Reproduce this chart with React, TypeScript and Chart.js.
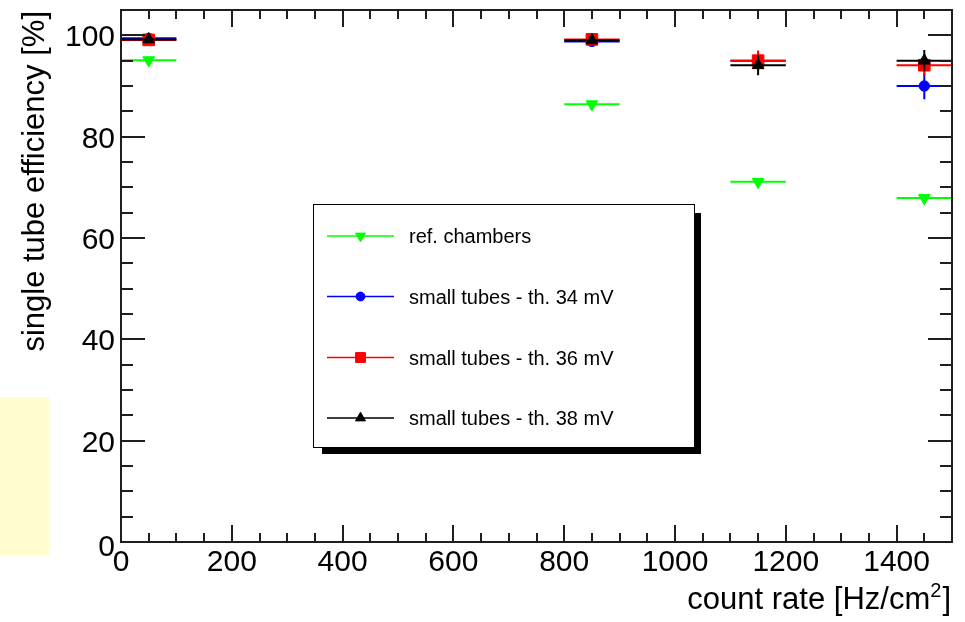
import React, { useEffect, useRef } from 'react';
import { Chart, registerables } from 'chart.js';

Chart.register(...registerables);

// ---- data ----
const countRates = [50, 850, 1150, 1450];
const countRateErr = [50, 50, 50, 50];

const refChambers = [95.1, 86.4, 71.1, 67.9];
const refChambersErr = [0.3, 0.3, 0.3, 0.3];

const smallTubes34 = [99.4, 98.8, 95.0, 90.0];
const smallTubes34Err = [1.0, 0.5, 1.5, 2.6];

const smallTubes36 = [99.1, 99.2, 95.0, 94.1];
const smallTubes36Err = [0.5, 0.5, 2.0, 2.0];

const smallTubes38 = [99.2, 99.0, 94.1, 95.0];
const smallTubes38Err = [0.5, 0.5, 2.0, 2.1];

const seriesLabels = [
  'ref. chambers',
  'small tubes - th. 34 mV',
  'small tubes - th. 36 mV',
  'small tubes - th. 38 mV',
];

const xTicks = [0, 200, 400, 600, 800, 1000, 1200, 1400];
const yTicks = [0, 20, 40, 60, 80, 100];

const X_MIN = 0, X_MAX = 1500, Y_MIN = 0, Y_MAX = 105;

const FONT = '"Liberation Sans", Arial, Helvetica, sans-serif';

type SeriesStyle = { color: string; style: string; radius: number; rotation: number };
const styles: SeriesStyle[] = [
  { color: '#00ff00', style: 'triangle', radius: 6.8, rotation: 180 },
  { color: '#0000ff', style: 'circle', radius: 5.2, rotation: 0 },
  { color: '#ff0000', style: 'rect', radius: 8.2, rotation: 0 },
  { color: '#000000', style: 'triangle', radius: 6.8, rotation: 0 },
];

const values = [refChambers, smallTubes34, smallTubes36, smallTubes38];
const errors = [refChambersErr, smallTubes34Err, smallTubes36Err, smallTubes38Err];

function drawMarker(ctx: CanvasRenderingContext2D, s: SeriesStyle, x: number, y: number) {
  ctx.save();
  ctx.fillStyle = s.color;
  ctx.strokeStyle = s.color;
  ctx.lineWidth = 1;
  ctx.beginPath();
  if (s.style === 'circle') {
    ctx.arc(x, y, s.radius, 0, Math.PI * 2);
  } else if (s.style === 'rect') {
    const h = s.radius * Math.SQRT1_2;
    ctx.rect(x - h, y - h, 2 * h, 2 * h);
  } else {
    let rad = (s.rotation * Math.PI) / 180;
    ctx.moveTo(x + Math.sin(rad) * s.radius, y - Math.cos(rad) * s.radius);
    rad += (2 * Math.PI) / 3;
    ctx.lineTo(x + Math.sin(rad) * s.radius, y - Math.cos(rad) * s.radius);
    rad += (2 * Math.PI) / 3;
    ctx.lineTo(x + Math.sin(rad) * s.radius, y - Math.cos(rad) * s.radius);
    ctx.closePath();
  }
  ctx.fill();
  ctx.stroke();
  ctx.restore();
}

const rootPlugin = {
  id: 'rootStyle',
  beforeDatasetDraw(chart: any, args: any) {
    const i = args.index;
    const ctx: CanvasRenderingContext2D = chart.ctx;
    const xs = chart.scales.x;
    const ys = chart.scales.y;
    ctx.save();
    ctx.strokeStyle = styles[i].color;
    ctx.lineWidth = 2;
    ctx.lineCap = 'butt';
    countRates.forEach((cx, k) => {
      const v = values[i][k];
      const px = xs.getPixelForValue(cx);
      const py = ys.getPixelForValue(v);
      ctx.beginPath();
      ctx.moveTo(xs.getPixelForValue(cx - countRateErr[k]), py);
      ctx.lineTo(xs.getPixelForValue(cx + countRateErr[k]), py);
      ctx.moveTo(px, ys.getPixelForValue(v - errors[i][k]));
      ctx.lineTo(px, ys.getPixelForValue(v + errors[i][k]));
      ctx.stroke();
    });
    ctx.restore();
  },
  afterDraw(chart: any) {
    const ctx: CanvasRenderingContext2D = chart.ctx;
    const xs = chart.scales.x;
    const ys = chart.scales.y;
    const a = chart.chartArea;
    ctx.save();
    ctx.strokeStyle = '#1e1e1e';
    ctx.lineWidth = 2;
    // frame
    ctx.strokeRect(a.left, a.top, a.right - a.left, a.bottom - a.top);
    // x ticks (bottom and top), minor every 50
    ctx.beginPath();
    for (let v = X_MIN; v <= X_MAX; v += 50) {
      const px = Math.round(xs.getPixelForValue(v));
      const major = v % 200 === 0;
      const len = major ? 17 : 9;
      ctx.moveTo(px, a.bottom);
      ctx.lineTo(px, a.bottom - len);
      ctx.moveTo(px, a.top);
      ctx.lineTo(px, a.top + len);
    }
    // y ticks (left and right), minor every 5
    for (let v = Y_MIN; v <= Y_MAX; v += 5) {
      const py = Math.round(ys.getPixelForValue(v));
      const major = v % 20 === 0;
      const len = major ? 24 : 12;
      ctx.moveTo(a.left, py);
      ctx.lineTo(a.left + len, py);
      ctx.moveTo(a.right, py);
      ctx.lineTo(a.right - len, py);
    }
    ctx.stroke();

    // tick labels
    ctx.fillStyle = '#000';
    ctx.font = `30px ${FONT}`;
    ctx.textAlign = 'center';
    ctx.textBaseline = 'alphabetic';
    xTicks.forEach((v) => {
      ctx.fillText(String(v), xs.getPixelForValue(v), a.bottom + 29);
    });
    ctx.textAlign = 'right';
    yTicks.forEach((v) => {
      const py = ys.getPixelForValue(v);
      ctx.fillText(String(v), a.left - 6, py + (v === 0 ? 14 : 11));
    });

    // x title
    ctx.font = `31px ${FONT}`;
    ctx.textAlign = 'left';
    const part1 = 'count rate [Hz/cm';
    const sup = '2';
    const part3 = ']';
    const w1 = ctx.measureText(part1).width;
    const w3 = ctx.measureText(part3).width;
    ctx.font = `20px ${FONT}`;
    const w2 = ctx.measureText(sup).width;
    const endX = a.right - 1;
    const startX = endX - (w1 + w2 + w3 + 1);
    const baseY = 609;
    ctx.font = `31px ${FONT}`;
    ctx.fillText(part1, startX, baseY);
    ctx.font = `20px ${FONT}`;
    ctx.fillText(sup, startX + w1, baseY - 12);
    ctx.font = `31px ${FONT}`;
    ctx.fillText(part3, startX + w1 + w2 + 1, baseY);

    // y title
    ctx.save();
    ctx.translate(44, 11);
    ctx.rotate(-Math.PI / 2);
    ctx.textAlign = 'right';
    ctx.font = `31px ${FONT}`;
    ctx.fillText('single tube efficiency [%]', 0, 0);
    ctx.restore();

    // legend
    const L = { left: 313, top: 204, right: 695, bottom: 448 };
    ctx.fillStyle = '#000';
    ctx.fillRect(L.left + 9, L.top + 9, L.right - L.left - 3, L.bottom - L.top - 3);
    ctx.fillStyle = '#fff';
    ctx.fillRect(L.left, L.top, L.right - L.left, L.bottom - L.top);
    ctx.lineWidth = 1;
    ctx.strokeStyle = '#000';
    ctx.strokeRect(L.left + 0.5, L.top + 0.5, L.right - L.left - 1, L.bottom - L.top - 1);
    const rowY = [236, 296.5, 357.5, 418];
    ctx.font = `20px ${FONT}`;
    ctx.textAlign = 'left';
    seriesLabels.forEach((lab, i) => {
      const y = rowY[i];
      ctx.strokeStyle = styles[i].color;
      ctx.lineWidth = 1.5;
      ctx.beginPath();
      ctx.moveTo(327, y);
      ctx.lineTo(394, y);
      ctx.stroke();
      drawMarker(ctx, { ...styles[i], radius: styles[i].radius * 0.85 }, 360.5, y);
      ctx.fillStyle = '#000';
      ctx.fillText(lab, 409, y + 7);
    });
    ctx.restore();
  },
};

export default function App() {
  const canvasRef = useRef<HTMLCanvasElement | null>(null);

  useEffect(() => {
    const canvas = canvasRef.current;
    if (!canvas) return;
    const datasets = values.map((vals, i) => ({
      label: seriesLabels[i],
      data: countRates.map((x, k) => ({ x, y: vals[k] })),
      showLine: false,
      pointStyle: styles[i].style,
      pointRadius: styles[i].radius,
      pointRotation: styles[i].rotation,
      pointBackgroundColor: styles[i].color,
      pointBorderColor: styles[i].color,
      pointBorderWidth: 1,
      pointHoverRadius: styles[i].radius,
      order: 4 - i,
    }));
    const chart = new Chart(canvas, {
      type: 'scatter',
      data: { datasets },
      options: {
        animation: false,
        responsive: false,
        devicePixelRatio: 1,
        events: [],
        layout: { padding: { left: 121, top: 10, right: 13, bottom: 80 } },
        plugins: { legend: { display: false }, tooltip: { enabled: false } },
        scales: {
          x: { type: 'linear', min: X_MIN, max: X_MAX, display: false },
          y: { type: 'linear', min: Y_MIN, max: Y_MAX, display: false },
        },
      },
      plugins: [rootPlugin],
    } as any);
    return () => chart.destroy();
  }, []);

  return (
    <div style={{ position: 'fixed', left: 0, top: 0, width: 965, height: 622, background: '#fff' }}>
      <div
        style={{
          position: 'absolute',
          left: 0,
          top: 397,
          width: 49,
          height: 158,
          background: '#fffcd0',
        }}
      />
      <canvas
        ref={canvasRef}
        width={965}
        height={622}
        style={{ position: 'absolute', left: 0, top: 0, width: 965, height: 622 }}
      />
    </div>
  );
}
